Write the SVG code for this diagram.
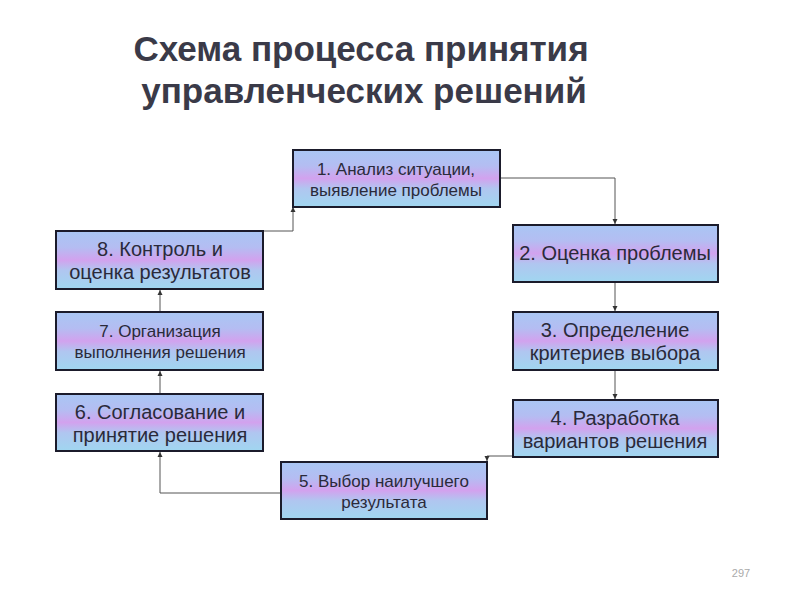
<svg xmlns="http://www.w3.org/2000/svg" width="800" height="600" viewBox="0 0 800 600">
<style>
.box{stroke:#1b1b2b;stroke-width:2;fill:url(#g)}
.t{font-family:"Liberation Sans",Arial,sans-serif;font-size:20px;fill:#2a2a3a;text-anchor:middle}
.ts{font-size:17px}
.title{font-family:"Liberation Sans",Arial,sans-serif;font-size:35px;font-weight:bold;fill:#3a3a48;text-anchor:middle}
.c{fill:none;stroke:#555;stroke-width:1}
</style>
<defs>
<linearGradient id="g" x1="0" y1="0" x2="0" y2="1">
<stop offset="0" stop-color="#a9c6f4"/>
<stop offset="0.28" stop-color="#b4bdf2"/>
<stop offset="0.5" stop-color="#d2a2ee"/>
<stop offset="0.68" stop-color="#b0c6f0"/>
<stop offset="1" stop-color="#a0d6f0"/>
</linearGradient>
<marker id="a" markerWidth="6" markerHeight="6" refX="5" refY="3" orient="auto" markerUnits="userSpaceOnUse">
<path d="M0,0.5 L5,3 L0,5.5 Z" fill="#333"/>
</marker>
</defs>
<rect width="800" height="600" fill="#fff"/>
<text class="title" x="361" y="61">Схема процесса принятия</text>
<text class="title" x="364" y="103">управленческих решений</text>
<g id="connectors">
<path class="c" d="M500,178 H615 V224" marker-end="url(#a)"/>
<path class="c" d="M615,282 V311" marker-end="url(#a)"/>
<path class="c" d="M615,370 V399" marker-end="url(#a)"/>
<path class="c" d="M513,456 H487 V461" marker-end="url(#a)"/>
<path class="c" d="M281,493 H160 V452" marker-end="url(#a)"/>
<path class="c" d="M160,394 V371" marker-end="url(#a)"/>
<path class="c" d="M160,312 V290" marker-end="url(#a)"/>
<path class="c" d="M263,231 H293 V207" marker-end="url(#a)"/>
</g>
<g id="n1"><rect class="box" x="293" y="150" width="207" height="57"/>
<text class="t ts" x="396" y="175">1. Анализ ситуации,</text><text class="t ts" x="396" y="196">выявление проблемы</text></g>
<g id="n2"><rect class="box" x="513" y="225" width="205" height="57"/>
<text class="t" x="615" y="260">2. Оценка проблемы</text></g>
<g id="n3"><rect class="box" x="513" y="312" width="205" height="58"/>
<text class="t" x="615" y="337">3. Определение</text><text class="t" x="615" y="360">критериев выбора</text></g>
<g id="n4"><rect class="box" x="513" y="400" width="205" height="57"/>
<text class="t" x="615" y="425">4. Разработка</text><text class="t" x="615" y="448">вариантов решения</text></g>
<g id="n5"><rect class="box" x="281" y="462" width="206" height="57"/>
<text class="t ts" x="384" y="487">5. Выбор наилучшего</text><text class="t ts" x="384" y="508">результата</text></g>
<g id="n6"><rect class="box" x="56" y="394" width="207" height="57"/>
<text class="t" x="160" y="419">6. Согласование и</text><text class="t" x="160" y="442">принятие решения</text></g>
<g id="n7"><rect class="box" x="56" y="312" width="207" height="58"/>
<text class="t ts" x="160" y="337">7. Организация</text><text class="t ts" x="160" y="358">выполнения решения</text></g>
<g id="n8"><rect class="box" x="56" y="231" width="207" height="58"/>
<text class="t" x="160" y="256">8. Контроль и</text><text class="t" x="160" y="279">оценка результатов</text></g>
<text x="741" y="577" font-family="'Liberation Sans',Arial,sans-serif" font-size="11" fill="#aaa" text-anchor="middle">297</text>
</svg>
